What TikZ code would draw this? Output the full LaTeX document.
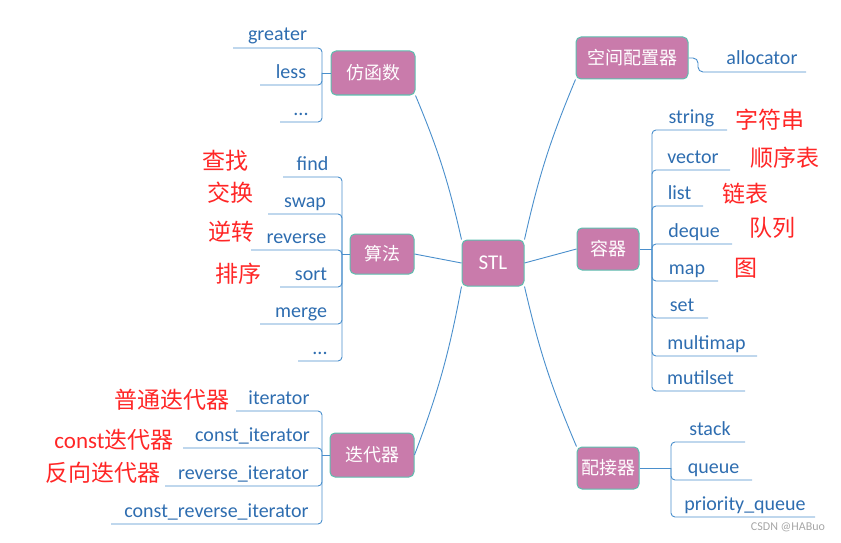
\documentclass[tikz,border=0pt]{standalone}
\usepackage{fontspec}
\setmainfont{Carlito}
\newfontfamily\cjk{Noto Sans CJK SC}
\begin{document}
\begin{tikzpicture}[x=1pt,y=-1pt,
  hub/.style={line width=1pt, rounded corners=5pt, text=white, font=\cjk\fontsize{18}{18}\selectfont, inner sep=0pt},
  ln/.style={line width=0.9pt},
  leaf/.style={font=\fontsize{20}{20}\selectfont, anchor=base, inner sep=0pt},
  red/.style={text=red!85!white, font=\cjk\fontsize{23}{23}\selectfont, inner sep=0pt}]
\useasboundingbox (0,0) rectangle (841,543);
\definecolor{hubfill}{HTML}{C97BAB}
\definecolor{hubline}{HTML}{5CBFAF}
\definecolor{lc}{HTML}{4A8FCC}
\definecolor{lt}{HTML}{2E6DB0}
\tikzset{hub/.append style={fill=hubfill, draw=hubline}, ln/.append style={draw=lc}, leaf/.append style={text=lt}}
\node[hub, minimum width=62, minimum height=46] (stl) at (493,263) {\fontspec{Carlito}\fontsize{21}{21}\selectfont STL};
\node[hub, minimum width=84, minimum height=44] (fz) at (373,73) {仿函数};
\node[hub, minimum width=64, minimum height=40] (sf) at (382,254) {算法};
\node[hub, minimum width=84, minimum height=44] (ddq) at (372,455) {迭代器};
\node[hub, minimum width=112, minimum height=42] (kj) at (632,58) {空间配置器};
\node[hub, minimum width=62, minimum height=42] (rq) at (608,249) {容器};
\node[hub, minimum width=62, minimum height=42] (pj) at (608,468) {配接器};
% STL connectors
\draw[ln] (stl.north west) to[bend right=5] (fz.south east);
\draw[ln] (stl.west) -- (sf.east);
\draw[ln] (stl.south west) to[bend left=5] (ddq.east);
\draw[ln] (stl.north east) to[bend left=5] (kj.south west);
\draw[ln] (stl.east) -- (rq.west);
\draw[ln] (stl.south east) to[bend right=5] (pj.north west);
\newcommand\lf[6]{\node[leaf] (#1) at ({(#2+#3)/2},{#4-7}) {#6};
  \draw[ln, rounded corners=4pt] (#2,#4) -- (#3,#4) -- (#3,#5);}
\newcommand\rf[6]{\node[leaf] (#1) at ({(#2+#3)/2+2},{#4-7}) {#6};
  \draw[ln, rounded corners=4pt] (#3,#4) -- (#2,#4) -- (#2,#5);}
% 仿函数
\coordinate (fzb) at (322,73);
\draw[ln] (fz.west) -- (fzb);
\lf{g1}{233}{322}{48}{73}{greater}
\lf{g2}{260}{322}{85}{73}{less}
\lf{g3}{280}{322}{122}{73}{...}
% 算法
\coordinate (sfb) at (342,254);
\draw[ln] (sf.west) -- (sfb);
\lf{a1}{283}{342}{177}{254}{find}
\lf{a2}{268}{342}{214}{254}{swap}
\lf{a3}{251}{342}{250}{254}{reverse}
\lf{a4}{280}{342}{287}{254}{sort}
\lf{a5}{260}{342}{324}{254}{merge}
\lf{a6}{298}{342}{361}{254}{...}
% 迭代器
\coordinate (ddb) at (322,455);
\draw[ln] (ddq.west) -- (ddb);
\lf{i1}{236}{322}{411}{455}{iterator}
\lf{i2}{183}{322}{448}{455}{const\_iterator}
\lf{i3}{165}{322}{486}{455}{reverse\_iterator}
\lf{i4}{111}{322}{524}{455}{const\_reverse\_iterator}
% 空间配置器
\node[leaf] (al) at (762,65) {allocator};
\draw[ln, rounded corners=5pt] (kj.east) -- (698,58) -- (698,72) -- (806,72);
% 容器
\coordinate (rqb) at (652,249);
\draw[ln] (rq.east) -- (rqb);
\rf{c1}{652}{727}{130}{249}{string}
\rf{c2}{652}{730}{170}{249}{vector}
\rf{c3}{652}{703}{206}{249}{list}
\rf{c4}{652}{732}{244}{249}{deque}
\rf{c5}{652}{718}{281}{249}{map}
\rf{c6}{652}{708}{318}{249}{set}
\rf{c7}{652}{757}{356}{249}{multimap}
\rf{c8}{652}{745}{391}{249}{mutilset}
% 配接器
\coordinate (pjb) at (671,468);
\draw[ln] (pj.east) -- (pjb);
\rf{p1}{671}{745}{442}{468}{stack}
\rf{p2}{671}{752}{480}{468}{queue}
\rf{p3}{671}{815}{517}{468}{priority\_queue}
% red labels
\node[red] (r1) at (225,161) {查找};
\node[red] (r2) at (230,193) {交换};
\node[red] (r3) at (231,232) {逆转};
\node[red] (r4) at (238,274) {排序};
\node[red] (r5) at (770,120) {字符串};
\node[red] (r6) at (785,158) {顺序表};
\node[red] (r7) at (745,194) {链表};
\node[red] (r8) at (772,228) {队列};
\node[red] (r9) at (746,268) {图};
\node[red] (r10) at (172,400) {普通迭代器};
\node[red] (r11) at (114,440) {\fontspec{Carlito}const\cjk 迭代器};
\node[red] (r12) at (103,473) {反向迭代器};
\node[text=gray!70, font=\fontsize{12}{12}\selectfont] (wm) at (788,527) {CSDN @HABuo};
\end{tikzpicture}
\end{document}
